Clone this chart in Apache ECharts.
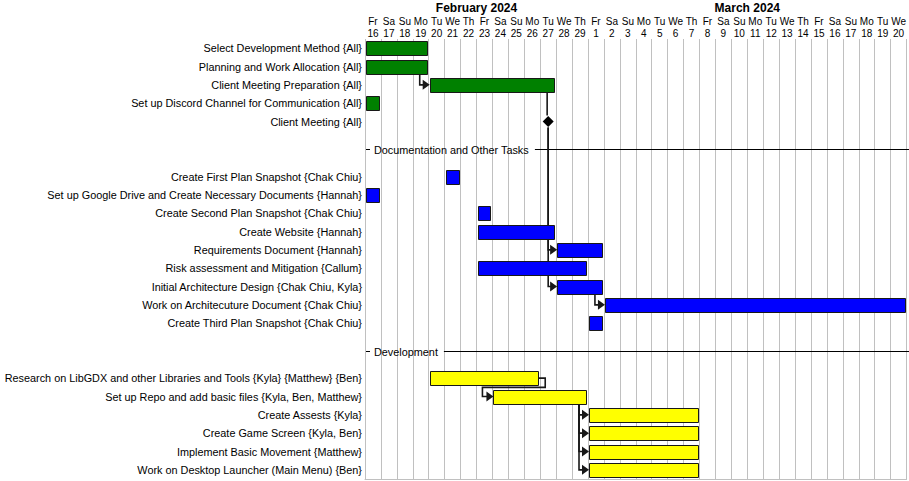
<!DOCTYPE html>
<html>
<head>
<meta charset="utf-8">
<script src="https://cdn.jsdelivr.net/npm/echarts@6/dist/echarts.min.js"></script>
<style>
html,body{margin:0;padding:0;background:#fff;}
#chart{width:909px;height:481px;}
</style>
</head>
<body>
<div id="chart"></div>
<script>
// ---- categories / tick labels ----
const dates = ['2024-02-16','2024-02-17','2024-02-18','2024-02-19','2024-02-20','2024-02-21','2024-02-22','2024-02-23','2024-02-24','2024-02-25','2024-02-26','2024-02-27','2024-02-28','2024-02-29',
  '2024-03-01','2024-03-02','2024-03-03','2024-03-04','2024-03-05','2024-03-06','2024-03-07','2024-03-08','2024-03-09','2024-03-10','2024-03-11','2024-03-12','2024-03-13','2024-03-14','2024-03-15','2024-03-16','2024-03-17','2024-03-18','2024-03-19','2024-03-20'];
const weekdays = ['Fr','Sa','Su','Mo','Tu','We','Th','Fr','Sa','Su','Mo','Tu','We','Th',
  'Fr','Sa','Su','Mo','Tu','We','Th','Fr','Sa','Su','Mo','Tu','We','Th','Fr','Sa','Su','Mo','Tu','We'];
const dayNumbers = [16,17,18,19,20,21,22,23,24,25,26,27,28,29,1,2,3,4,5,6,7,8,9,10,11,12,13,14,15,16,17,18,19,20];
const monthNames = ['February 2024','March 2024'];
const monthFirst = ['2024-02-16','2024-03-01'];
const monthLast = ['2024-02-29','2024-03-20'];

// ---- sections ----
const sectionNames = ['', 'Documentation and Other Tasks', 'Development'];
const sectionColors = ['#008000', '#0000FF', '#FFFF00'];

// ---- tasks ----
const taskNames = [
  'Select Development Method {All}',
  'Planning and Work Allocation {All}',
  'Client Meeting Preparation {All}',
  'Set up Discord Channel for Communication {All}',
  'Client Meeting {All}',
  'Create First Plan Snapshot {Chak Chiu}',
  'Set up Google Drive and Create Necessary Documents {Hannah}',
  'Create Second Plan Snapshot {Chak Chiu}',
  'Create Website {Hannah}',
  'Requirements Document {Hannah}',
  'Risk assessment and Mitigation {Callum}',
  'Initial Architecture Design {Chak Chiu, Kyla}',
  'Work on Architecuture Document {Chak Chiu}',
  'Create Third Plan Snapshot {Chak Chiu}',
  'Research on LibGDX and other Libraries and Tools {Kyla} {Matthew} {Ben}',
  'Set up Repo and add basic files {Kyla, Ben, Matthew}',
  'Create Assests {Kyla}',
  'Create Game Screen {Kyla, Ben}',
  'Implement Basic Movement {Matthew}',
  'Work on Desktop Launcher (Main Menu) {Ben}'
];
const taskStart = ['2024-02-16','2024-02-16','2024-02-20','2024-02-16','2024-02-27',
  '2024-02-21','2024-02-16','2024-02-23','2024-02-23','2024-02-28','2024-02-23','2024-02-28','2024-03-02','2024-03-01',
  '2024-02-20','2024-02-24','2024-03-01','2024-03-01','2024-03-01','2024-03-01'];
const taskEnd = ['2024-02-19','2024-02-19','2024-02-27','2024-02-16','2024-02-27',
  '2024-02-21','2024-02-16','2024-02-23','2024-02-27','2024-03-01','2024-02-29','2024-03-01','2024-03-20','2024-03-01',
  '2024-02-26','2024-02-29','2024-03-07','2024-03-07','2024-03-07','2024-03-07'];
const taskSection = [0,0,0,0,0, 1,1,1,1,1,1,1,1,1, 2,2,2,2,2,2];
const taskMilestone = [false,false,false,false,true, false,false,false,false,false,false,false,false,false, false,false,false,false,false,false];

// ---- dependencies (from task -> to task) ----
const depFrom = [1, 2, 4, 4, 11, 14, 15, 15, 15, 15];
const depTo   = [2, 4, 9, 11, 12, 15, 16, 17, 18, 19];

// ---- layout (row positions in row units) ----
const FONT = '"Liberation Sans", Arial, sans-serif';
const LABEL_SIZE = 10.85;
const idx = d => dates.indexOf(d);
const rowOf = [];
const seps = [];
let cursor = 0;
taskSection.forEach((s, i) => {
  if (i > 0 && s !== taskSection[i - 1]) { seps.push([cursor + 1, s]); cursor += 2; }
  rowOf.push(cursor + 0.5);
  cursor += 1;
});
const totalRows = cursor;

const measureCtx = document.createElement('canvas').getContext('2d');
function textWidth(t, size, weight) {
  measureCtx.font = (weight || 'normal') + ' ' + size + 'px ' + FONT;
  return measureCtx.measureText(t).width;
}

function geom(api, i) {
  const bw = api.size([1, 0])[0];
  const ps = api.coord([idx(taskStart[i]), rowOf[i]]);
  const pe = api.coord([idx(taskEnd[i]), rowOf[i]]);
  return { left: ps[0] - bw / 2, right: pe[0] + bw / 2, cx: ps[0], cy: ps[1], bw };
}

const taskData = taskNames.map((n, i) => [idx(taskStart[i]), idx(taskEnd[i]), rowOf[i], i]);
const depData = depFrom.map((f, k) => [idx(taskEnd[f]), idx(taskStart[depTo[k]]), rowOf[f], k]);
const sepData = seps.map(s => [0, 0, s[0], s[1]]);
const monthData = monthNames.map((m, k) => [idx(monthFirst[k]), idx(monthLast[k]), 0, k]);

const LINE = '#181818';

const chart = echarts.init(document.getElementById('chart'), null, { renderer: 'svg' });
chart.setOption({
  animation: false,
  backgroundColor: '#fff',
  grid: { left: 365, right: 0, top: 39, bottom: 2 },
  xAxis: [{
    type: 'category', data: dates, position: 'top', boundaryGap: true,
    axisLine: { show: false }, axisTick: { show: false },
    splitLine: { show: true, lineStyle: { color: '#c0c0c0', width: 1 } },
    axisLabel: {
      interval: 0, margin: 0,
      formatter: (v, i) => '{w|' + weekdays[i] + '}\n{d|' + dayNumbers[i] + '}',
      rich: {
        w: { fontSize: 10, lineHeight: 12, fontFamily: FONT, color: '#000' },
        d: { fontSize: 10, lineHeight: 12, fontFamily: FONT, color: '#000' }
      }
    }
  }, {
    type: 'category', data: dates, position: 'bottom', boundaryGap: true,
    axisLine: { show: true, lineStyle: { color: '#c0c0c0', width: 1 } },
    axisTick: { show: false }, axisLabel: { show: false }, splitLine: { show: false }
  }],
  yAxis: {
    type: 'value', min: 0, max: totalRows, inverse: true,
    axisLine: { show: false }, axisTick: { show: false }, axisLabel: { show: false }, splitLine: { show: false }
  },
  series: [
    {
      type: 'custom', name: 'months', xAxisIndex: 0, clip: false, silent: true,
      encode: { x: [0, 1], y: 2 },
      data: monthData,
      renderItem: (params, api) => {
        const bw = api.size([1, 0])[0];
        const p0 = api.coord([api.value(0), 0]);
        const p1 = api.coord([api.value(1), 0]);
        const cx = ((p0[0] - bw / 2) + (p1[0] + bw / 2)) / 2;
        return {
          type: 'text',
          style: { text: monthNames[api.value(3)], x: cx, y: p0[1] - 31, align: 'center', verticalAlign: 'middle',
            font: 'bold 12px ' + FONT, fill: '#000' }
        };
      }
    },
    {
      type: 'custom', name: 'separators', xAxisIndex: 0, clip: false, silent: true,
      encode: { x: 0, y: 2 },
      data: sepData,
      renderItem: (params, api) => {
        const bw = api.size([1, 0])[0];
        const p = api.coord([0, api.value(2)]);
        const gl = p[0] - bw / 2;
        const y = Math.round(p[1]) + 0.5;
        const name = sectionNames[api.value(3)];
        const tw = textWidth(name, LABEL_SIZE);
        const tx = gl + 9;
        return {
          type: 'group',
          children: [
            { type: 'line', shape: { x1: gl + 1, y1: y, x2: gl + 5, y2: y }, style: { stroke: '#000', lineWidth: 1 } },
            { type: 'text', style: { text: name, x: tx, y: y, verticalAlign: 'middle', font: LABEL_SIZE + 'px ' + FONT, fill: '#000' } },
            { type: 'line', shape: { x1: tx + tw + 6, y1: y, x2: 909, y2: y }, style: { stroke: '#000', lineWidth: 1 } }
          ]
        };
      }
    },
    {
      type: 'custom', name: 'dependencies', xAxisIndex: 0, clip: false, silent: true,
      encode: { x: [0, 1], y: 2 },
      data: depData,
      renderItem: (params, api) => {
        const k = api.value(3);
        const f = depFrom[k], t = depTo[k];
        const src = geom(api, f), tgt = geom(api, t);
        const rowH = api.size([0, 1])[1];
        const children = [];
        const arrow = (tip, y) => ({ type: 'polygon', shape: { points: [[tip, y], [tip - 7, y - 5], [tip - 7, y + 5]] }, style: { fill: LINE } });
        const xl = taskMilestone[f] ? src.cx : src.right - 9;
        const y0 = taskMilestone[f] ? src.cy + 6 : src.cy + 7;
        if (taskMilestone[t]) {
          children.push({ type: 'polyline', shape: { points: [[xl, y0], [xl, tgt.cy - 6]] }, style: { stroke: LINE, lineWidth: 1.6, fill: null } });
        } else if (taskMilestone[f] || tgt.left >= src.right - 0.5) {
          const tip = tgt.left + 1;
          children.push({ type: 'polyline', shape: { points: [[xl, y0], [xl, tgt.cy], [tip - 6, tgt.cy]] }, style: { stroke: LINE, lineWidth: 1.6, fill: null } });
          children.push(arrow(tip, tgt.cy));
        } else {
          const bx = src.right - 2;
          const ym = src.cy + rowH / 2;
          const tip = tgt.left + 1;
          const lx = tgt.left - 10;
          children.push({ type: 'polyline', shape: { points: [[bx, src.cy], [bx + 7, src.cy], [bx + 7, ym], [lx, ym], [lx, tgt.cy], [tip - 6, tgt.cy]] }, style: { stroke: LINE, lineWidth: 1.6, fill: null } });
          children.push(arrow(tip, tgt.cy));
        }
        return { type: 'group', children };
      }
    },
    {
      type: 'custom', name: 'tasks', xAxisIndex: 0, clip: false, silent: true,
      encode: { x: [0, 1], y: 2 },
      data: taskData,
      renderItem: (params, api) => {
        const i = api.value(3);
        const g = geom(api, i);
        const children = [];
        const color = sectionColors[taskSection[i]];
        if (taskMilestone[i]) {
          const s = 5.5;
          children.push({ type: 'polygon', shape: { points: [[g.cx, g.cy - s], [g.cx + s, g.cy], [g.cx, g.cy + s], [g.cx - s, g.cy]] }, style: { fill: '#000' } });
        } else {
          const x0 = Math.round(g.left + 1) + 0.5;
          const x1 = Math.round(g.right - 2) + 0.5;
          const yt = Math.round(g.cy - 7) + 0.5;
          children.push({ type: 'rect', shape: { x: x0, y: yt, width: x1 - x0, height: 14 }, style: { fill: color, stroke: LINE, lineWidth: 1 } });
        }
        const gl = api.coord([0, rowOf[i]])[0] - g.bw / 2;
        children.push({ type: 'text', style: { text: taskNames[i], x: gl - 3, y: g.cy, align: 'right', verticalAlign: 'middle', font: LABEL_SIZE + 'px ' + FONT, fill: '#000' } });
        return { type: 'group', children };
      }
    }
  ]
});
</script>
</body>
</html>
